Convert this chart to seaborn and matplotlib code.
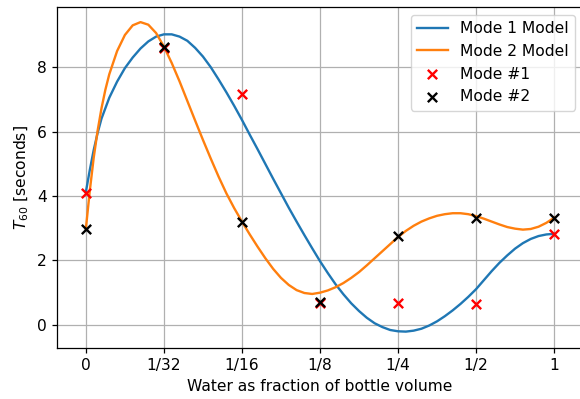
import matplotlib
matplotlib.use("Agg")
import matplotlib.pyplot as plt
import seaborn as sns

# x positions (categorical index) and tick labels
tick_labels = ["0", "1/32", "1/16", "1/8", "1/4", "1/2", "1"]
tick_pos = [0, 1, 2, 3, 4, 5, 6]

# measured points
mode1_y = [4.08, 8.6, 7.18, 0.68, 0.67, 0.63, 2.82]
mode2_y = [2.97, 8.62, 3.19, 0.70, 2.76, 3.30, 3.31]

# model curves
m1_x = [0, 0.05, 0.1, 0.15, 0.2, 0.3, 0.4, 0.5, 0.6, 0.7, 0.8, 0.9, 1.0, 1.1, 1.2,
        1.3, 1.4, 1.5, 1.6, 1.7, 1.8, 1.9, 2.0, 2.1, 2.2, 2.3, 2.4, 2.5, 2.6, 2.7,
        2.8, 2.9, 3.0, 3.1, 3.2, 3.3, 3.4, 3.5, 3.6, 3.7, 3.8, 3.9, 4.0, 4.1, 4.2,
        4.3, 4.4, 4.5, 4.6, 4.7, 4.8, 4.9, 5.0, 5.1, 5.2, 5.3, 5.4, 5.5, 5.6, 5.7,
        5.8, 5.9, 6.0]
m1_y = [4.12, 4.8, 5.42, 5.95, 6.4, 7.05, 7.55, 7.97, 8.3, 8.58, 8.8, 8.95, 9.02,
        9.02, 8.95, 8.82, 8.6, 8.33, 8.0, 7.62, 7.22, 6.8, 6.36, 5.9, 5.45, 4.99,
        4.53, 4.08, 3.63, 3.2, 2.78, 2.37, 1.97, 1.6, 1.25, 0.94, 0.66, 0.42, 0.21,
        0.04, -0.08, -0.17, -0.21, -0.22, -0.19, -0.13, -0.03, 0.1, 0.26, 0.44, 0.64,
        0.86, 1.1, 1.38, 1.66, 1.92, 2.15, 2.36, 2.53, 2.66, 2.75, 2.8, 2.82]

m2_x = [0, 0.05, 0.1, 0.15, 0.2, 0.25, 0.3, 0.4, 0.5, 0.6, 0.7, 0.8, 0.9, 1.0, 1.1,
        1.2, 1.3, 1.4, 1.5, 1.6, 1.7, 1.8, 1.9, 2.0, 2.1, 2.2, 2.3, 2.4, 2.5, 2.6, 2.7,
        2.8, 2.9, 3.0, 3.1, 3.2, 3.3, 3.4, 3.5, 3.6, 3.7, 3.8, 3.9, 4.0, 4.1, 4.2, 4.3,
        4.4, 4.5, 4.6, 4.7, 4.8, 4.9, 5.0, 5.1, 5.2, 5.3, 5.4, 5.5, 5.6, 5.7, 5.8, 5.9,
        6.0]
m2_y = [2.98, 4.15, 5.18, 6.02, 6.72, 7.3, 7.78, 8.5, 9.0, 9.3, 9.4, 9.32, 9.06,
        8.64, 8.13, 7.56, 6.95, 6.34, 5.74, 5.16, 4.6, 4.08, 3.62, 3.2, 2.8, 2.42,
        2.06, 1.73, 1.45, 1.23, 1.07, 0.98, 0.95, 0.99, 1.06, 1.16, 1.29, 1.45, 1.63,
        1.84, 2.06, 2.28, 2.5, 2.72, 2.91, 3.07, 3.2, 3.3, 3.38, 3.43, 3.46, 3.46,
        3.43, 3.37, 3.29, 3.2, 3.11, 3.03, 2.98, 2.95, 2.97, 3.04, 3.16, 3.32]

plt.rcParams["font.family"] = ["DejaVu Sans"]
plt.rcParams["font.size"] = 11.2

fig = plt.figure(figsize=(5.8, 3.99), dpi=100)
ax = fig.add_axes([57 / 580, 1 - 347.7 / 399, 526 / 580, (347.7 - 7) / 399])

sns.lineplot(x=m1_x, y=m1_y, ax=ax, color="#1f77b4", linewidth=1.7,
             label="Mode 1 Model", sort=False, estimator=None)
sns.lineplot(x=m2_x, y=m2_y, ax=ax, color="#ff7f0e", linewidth=1.7,
             label="Mode 2 Model", sort=False, estimator=None)
sns.scatterplot(x=tick_pos, y=mode1_y, ax=ax, color="red", marker="x", s=45,
                linewidth=1.7, label="Mode #1", zorder=3)
sns.scatterplot(x=tick_pos, y=mode2_y, ax=ax, color="black", marker="x", s=45,
                linewidth=1.7, label="Mode #2", zorder=4)

ax.set_xlim(-0.37, 6.37)
ax.set_ylim(-0.72, 9.87)
ax.set_xticks(tick_pos)
ax.set_xticklabels(tick_labels)
ax.set_yticks([0, 2, 4, 6, 8])
ax.grid(True, color="#b0b0b0", linewidth=0.9)
ax.set_axisbelow(True)
ax.spines["right"].set_visible(False)
for sp in ("left", "bottom", "top"):
    ax.spines[sp].set_linewidth(0.9)
ax.tick_params(length=3.9, width=0.9)
ax.set_xlabel("Water as fraction of bottle volume")
ax.set_ylabel("$T_{60}$ [seconds]")
ax.legend(loc="upper right", borderaxespad=0.5)

fig.savefig("out.png", dpi=100)
